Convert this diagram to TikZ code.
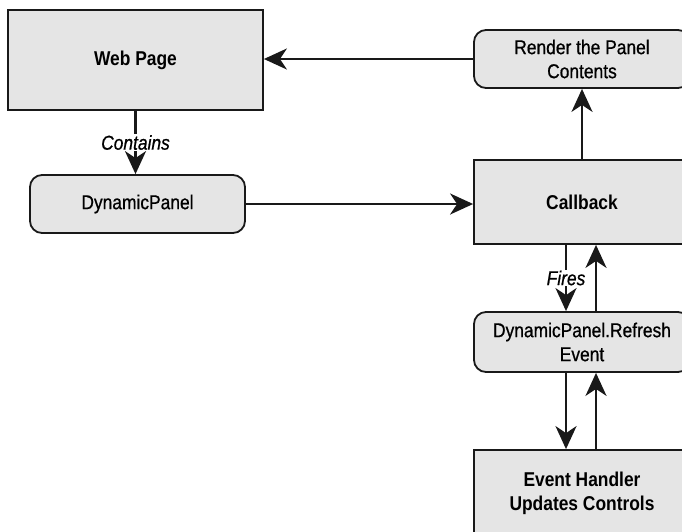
\documentclass[tikz,border=0pt]{standalone}
\usepackage{fontspec}
\setmainfont[FakeStretch=0.87, UprightFeatures={FakeBold=0.7},
    ItalicFeatures={FakeBold=0.7}]{Liberation Sans}
\usetikzlibrary{positioning,arrows.meta}

\begin{document}
\begin{tikzpicture}[x=1pt, y=-1pt,
    box/.style={draw=black!90, line width=1.8pt, fill=black!10, align=center,
        font=\fontsize{20}{24}\selectfont, minimum width=216pt, inner sep=0pt},
    rbox/.style={box, rounded corners=12pt},
    arr/.style={draw=black!90, line width=2.5pt,
        -{Stealth[length=23pt, width=21pt, inset=7pt]}},
    lbl/.style={fill=white, inner sep=1pt, font=\fontsize{20}{24}\selectfont\itshape}]
    \useasboundingbox (0,0) rectangle (682,531);
    % boxes
    \node[box, minimum width=255pt, minimum height=100pt] (web) at (135.5,60) {\bfseries Web Page};
    \node[rbox, minimum width=215pt, minimum height=58pt] (dyn) at (137.5,204) {DynamicPanel};
    \node[rbox, minimum height=58pt] (render) at (582,59) {Render the Panel\\Contents};
    \node[box, minimum height=84pt] (cb) at (582,202) {\bfseries Callback};
    \node[rbox, minimum height=60pt] (refresh) at (582,342) {DynamicPanel.Refresh\\Event};
    \node[box, minimum height=86pt] (handler) at (582,493) {\bfseries Event Handler\\\bfseries Updates Controls};
    % connectors
    \draw[arr] (web.south) -- node[lbl] (contains) {Contains} (web.south |- dyn.north);
    \draw[arr] (dyn.east) -- (dyn.east -| cb.west);
    \draw[arr] (cb.north) -- (render.south);
    \draw[arr] (render.west) -- (web.east |- render.west);
    \draw[arr] ([xshift=-16pt]cb.south) -- node[lbl] (fires) {Fires} ([xshift=-16pt]refresh.north);
    \draw[arr] ([xshift=14pt]refresh.north) -- ([xshift=14pt]cb.south);
    \draw[arr] ([xshift=-16pt]refresh.south) -- ([xshift=-16pt]handler.north);
    \draw[arr] ([xshift=14pt]handler.north) -- ([xshift=14pt]refresh.south);
\end{tikzpicture}
\end{document}
